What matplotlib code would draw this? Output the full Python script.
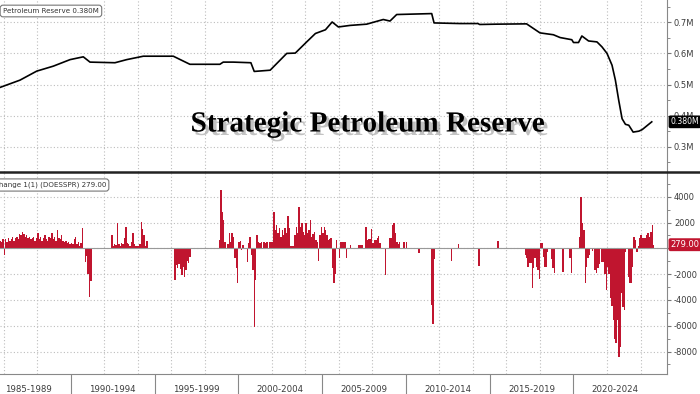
import matplotlib
matplotlib.use("Agg")
import matplotlib.pyplot as plt
import matplotlib.patheffects as pe
import matplotlib.transforms as mtrans
import numpy as np

# --- SPR level (millions of barrels shown as "M")
level_year = [1985.70, 1986.97, 1987.97, 1988.96, 1989.96, 1990.75, 1991.15, 1992.64,
              1993.34, 1994.33, 1996.12, 1997.11, 1998.90, 1999.10, 1999.70, 2000.75,
              2000.95, 2001.90, 2002.89, 2003.40, 2004.08, 2004.60, 2005.20, 2005.60,
              2005.97, 2006.67, 2007.66, 2008.65, 2009.05, 2009.45, 2011.54, 2011.68,
              2013.23, 2014.30, 2014.40, 2015.40, 2017.20, 2018.00, 2018.80, 2019.20,
              2019.90, 2020.00, 2020.30, 2020.50, 2020.90, 2021.40, 2021.70, 2022.00,
              2022.30, 2022.50, 2022.70, 2022.90, 2023.10, 2023.30, 2023.56, 2023.90,
              2024.10, 2024.67]
level_val = [0.489, 0.514, 0.543, 0.559, 0.580, 0.589, 0.572, 0.570,
             0.580, 0.591, 0.591, 0.565, 0.565, 0.572, 0.572, 0.570,
             0.542, 0.546, 0.600, 0.601, 0.637, 0.664, 0.676, 0.701,
             0.685, 0.690, 0.694, 0.709, 0.704, 0.725, 0.728, 0.698,
             0.696, 0.696, 0.693, 0.694, 0.695, 0.666, 0.660, 0.651,
             0.644, 0.635, 0.635, 0.656, 0.640, 0.637, 0.621, 0.600,
             0.562, 0.514, 0.449, 0.390, 0.372, 0.369, 0.347, 0.350,
             0.355, 0.380]

# --- change 1(1) (DOESSPR), monthly bars, each block starts at the given year
chg85_start = 1985.75
chg85 = [600, 500, 700, -520, 700, 500, 800, 600, 700, 900, 600, 800, 900, 700, 1100,
         1000, 1290, 1100, 900, 1000, 800, 900, 700, 800, 900, 600, 800, 1150, 700, 900,
         600, 800, 1000, 700, 600, 900, 800, 1200, 700, 900, 600, 1420, 800, 700, 1000,
         600, 500, 600, 400, 500, 300, 400, 300, 700, 900, 300, 500, 200, 400, 1550, 0,
         -1040, -600, -2000, -3750, -2500]

chg92_start = 1992.42
chg92 = [1030, 200, 300, 250, 1940, 300, 200, 400, 300, 800, 1630, 400, 300, 200, 500,
         1160, 300, 200, 200, 150, 300, 2060, 1500, 1030, 200, 560]

chg96_start = 1996.17
chg96 = [-2460, -1300, -1530, -1200, -1600, -2070, -1450, -2200, -1680, -1000, -1160, -650]

chg98_start = 1998.75
chg98 = [0, 640, 4520, 2840, 2190, 510, 0, 300, 1160, 500, 1160, 900, -780, -1550, -2710,
         510, 560, -130, 260, 0, 0, -1040, 390, 900, -520, -1680, -6070, -2460, 1030, 510,
         400, 510, 0, 510, 400, 510, 0, 510, 510, 510, 2840, 1420, 1800, 1160, 1550, 900,
         1420, 1000, 1550, 1200, 2500, 1550, 150, 150, 150, 1030, 1670, 1200, 3220, 1670,
         1940, 1300, 1030, 1940, 1160, 1400, 2190, 900, 1100, 1290, 640, 500, -960, 1030,
         1670, 1160, 1670, 1400, 1030, 640, 700, 770, -1500, -2710, -2000, 640, 0, -780,
         510, 510, 510, 510, -780]

chg06_start = 2006.67
chg06 = [260, 0, 0, 0, 0, 0, 260, 260, 260, 0, 0, 1670, 640, 700, 700, 1470, 390, 640,
         640, 770, 950, 390, 0, 0, 0, -2070, 0, 0, 770, 770, 1800, 1980, 1160, 510, 300,
         510, 0, 0, 510, 0, 510]

chg_misc_year = [2010.75, 2011.50, 2011.58, 2011.67, 2012.67, 2013.08, 2014.33, 2015.42, 2015.50]
chg_misc_val = [-340, -4400, -5900, -800, -960, 330, -1370, 590, 590]

chg17_start = 2017.08
chg17 = [-520, -780, -1430, -1160, -1160, -3100, -1550, -780, -1430, -1680, -2400, 430,
         430, -650, -1430, -1470, -300, 0, 0, -800, -1550, -1940, 0, 0, 0, 0, 0, -1800,
         0, 0, 0, 0, -750, -1940]

chg20_start = 2020.33
chg20 = [900, 4000, 1940, 1420, -2710, -1420, -780, -500, 0, -200, 0, -1680, -1890, -1500,
         -1200, 0, -1040, -1040, -2000, -3230, -1420, -2000, -3880, -4500, -5560, -7000,
         -7360, -5560, -8400, -7630, -3490, -4530, -4780, -300, 0, -2200, -2710, -2710,
         -1430, 900, 640, -260, 200, 770, 1030, 770, 800, 770, 1030, 1160, 900, 1290, 1800,
         279]

period_labels = ["1985-1989", "1990-1994", "1995-1999", "2000-2004",
                 "2005-2009", "2010-2014", "2015-2019", "2020-2024"]
period_start = [1985, 1990, 1995, 2000, 2005, 2010, 2015, 2020]

level_ticks = [0.3, 0.4, 0.5, 0.6, 0.7]
chg_ticks = [-8000, -6000, -4000, -2000, 0, 2000, 4000]

# assemble bar positions
bar_x, bar_v = [], []
for start, vals in [(chg85_start, chg85), (chg92_start, chg92), (chg96_start, chg96),
                    (chg98_start, chg98), (chg06_start, chg06), (chg17_start, chg17),
                    (chg20_start, chg20)]:
    for i, v in enumerate(vals):
        if v != 0:
            bar_x.append(start + i / 12.0)
            bar_v.append(v)
bar_x += chg_misc_year
bar_v += chg_misc_val

W, H = 700, 394
fig = plt.figure(figsize=(W / 100, H / 100), dpi=100)
ax1 = fig.add_axes([0, 1 - 172 / H, 667 / W, 172 / H])
ax2 = fig.add_axes([0, 1 - 374 / H, 667 / W, 202 / H])

grid_col = "#bdbdbd"
txt_col = "#3c3c3c"
xlo, xhi = 1985.78, 2025.58

for ax in (ax1, ax2):
    ax.set_xlim(xlo, xhi)
    ax.set_facecolor("white")
    for s in ("top", "left"):
        ax.spines[s].set_visible(False)
    ax.spines["right"].set_color("#888888")
    ax.spines["right"].set_linewidth(0.8)
    ax.yaxis.tick_right()
    ax.set_xticks(np.arange(1986, 2026, 2), minor=True)
    ax.grid(which="minor", axis="x", color=grid_col, linestyle=(0, (1, 2)), linewidth=0.8)
    ax.grid(which="major", axis="y", color=grid_col, linestyle=(0, (1, 2)), linewidth=0.8)
    ax.tick_params(axis="y", which="both", direction="out", colors="#777777",
                   labelcolor=txt_col, labelsize=6, pad=2)
    ax.tick_params(axis="y", which="major", length=3)
    ax.tick_params(axis="y", which="minor", length=2)
    ax.set_axisbelow(True)

# top panel
ax1.plot(level_year, level_val, color="black", linewidth=1.2)
ax1.set_ylim(0.2187, 0.7717)
ax1.set_yticks(level_ticks)
ax1.set_yticklabels(["%.1fM" % t for t in level_ticks])
ax1.set_yticks(np.arange(0.25, 0.8, 0.1), minor=True)
ax1.tick_params(axis="x", which="both", bottom=False, labelbottom=False)
ax1.spines["bottom"].set_visible(False)

# bottom panel
ax2.bar(bar_x, bar_v, width=1 / 12.0, color="#c0152f", edgecolor="none", align="edge")
ax2.axhline(0, color="#999999", linewidth=0.8)
ax2.set_ylim(-9744, 5915)
ax2.set_yticks(chg_ticks)
ax2.set_yticklabels(["%d" % t if t != 0 else "" for t in chg_ticks])
ax2.set_yticks(np.arange(-9000, 6000, 1000), minor=True)
ax2.spines["bottom"].set_color("#888888")
ax2.spines["bottom"].set_linewidth(0.8)
ax2.set_xticks(period_start[1:])
ax2.set_xticklabels([])
ax2.tick_params(axis="x", which="major", direction="out", length=15, color="#888888", width=0.8)
ax2.tick_params(axis="x", which="minor", length=0)

trans = mtrans.blended_transform_factory(ax2.transData, ax2.transAxes)
for lab, st in zip(period_labels, period_start):
    ax2.text(st + 2.5, -0.075, lab, transform=trans, ha="center", va="center",
             fontsize=6.2, color=txt_col, clip_on=False)

# separator between panels
fig.add_artist(plt.Line2D([0, 1], [1 - 172 / H, 1 - 172 / H], transform=fig.transFigure,
                          color="#222222", linewidth=1.8))

# value tags on the right axis
ax1.annotate("%.3fM" % level_val[-1], xy=(1.0, level_val[-1]),
             xycoords=("axes fraction", "data"), xytext=(2.5, 0), textcoords="offset points",
             ha="left", va="center", fontsize=5.6, color="white", zorder=5,
             bbox=dict(boxstyle="round,pad=0.15", fc="black", ec="black"), annotation_clip=False)
ax2.annotate("%.2f" % chg20[-1], xy=(1.0, chg20[-1]),
             xycoords=("axes fraction", "data"), xytext=(2.5, 0), textcoords="offset points",
             ha="left", va="center", fontsize=6, color="white", zorder=5,
             bbox=dict(boxstyle="round,pad=0.15", fc="#c0152f", ec="#c0152f"), annotation_clip=False)

# legend boxes
fig.text(3 / W, 1 - 11 / H, "Petroleum Reserve %.3fM" % level_val[-1], ha="left", va="center",
         fontsize=5.1, color="#333333",
         bbox=dict(boxstyle="round,pad=0.4", fc="white", ec="#777777", lw=0.8))
fig.text(106 / W, 1 - 185 / H, "Change 1(1) (DOESSPR) %.2f" % chg20[-1], ha="right", va="center",
         fontsize=5.1, color="#333333",
         bbox=dict(boxstyle="round,pad=0.4", fc="white", ec="#777777", lw=0.8))

# big title with shadow
fig.text(367 / W, 1 - 124 / H, "Strategic Petroleum Reserve", ha="center", va="center",
         fontsize=21, fontweight="bold", family="Liberation Serif", color="black",
         path_effects=[pe.withSimplePatchShadow(offset=(2.5, -2.5), shadow_rgbFace="#777777",
                                                alpha=0.45)])

fig.savefig("out.png", dpi=100)
